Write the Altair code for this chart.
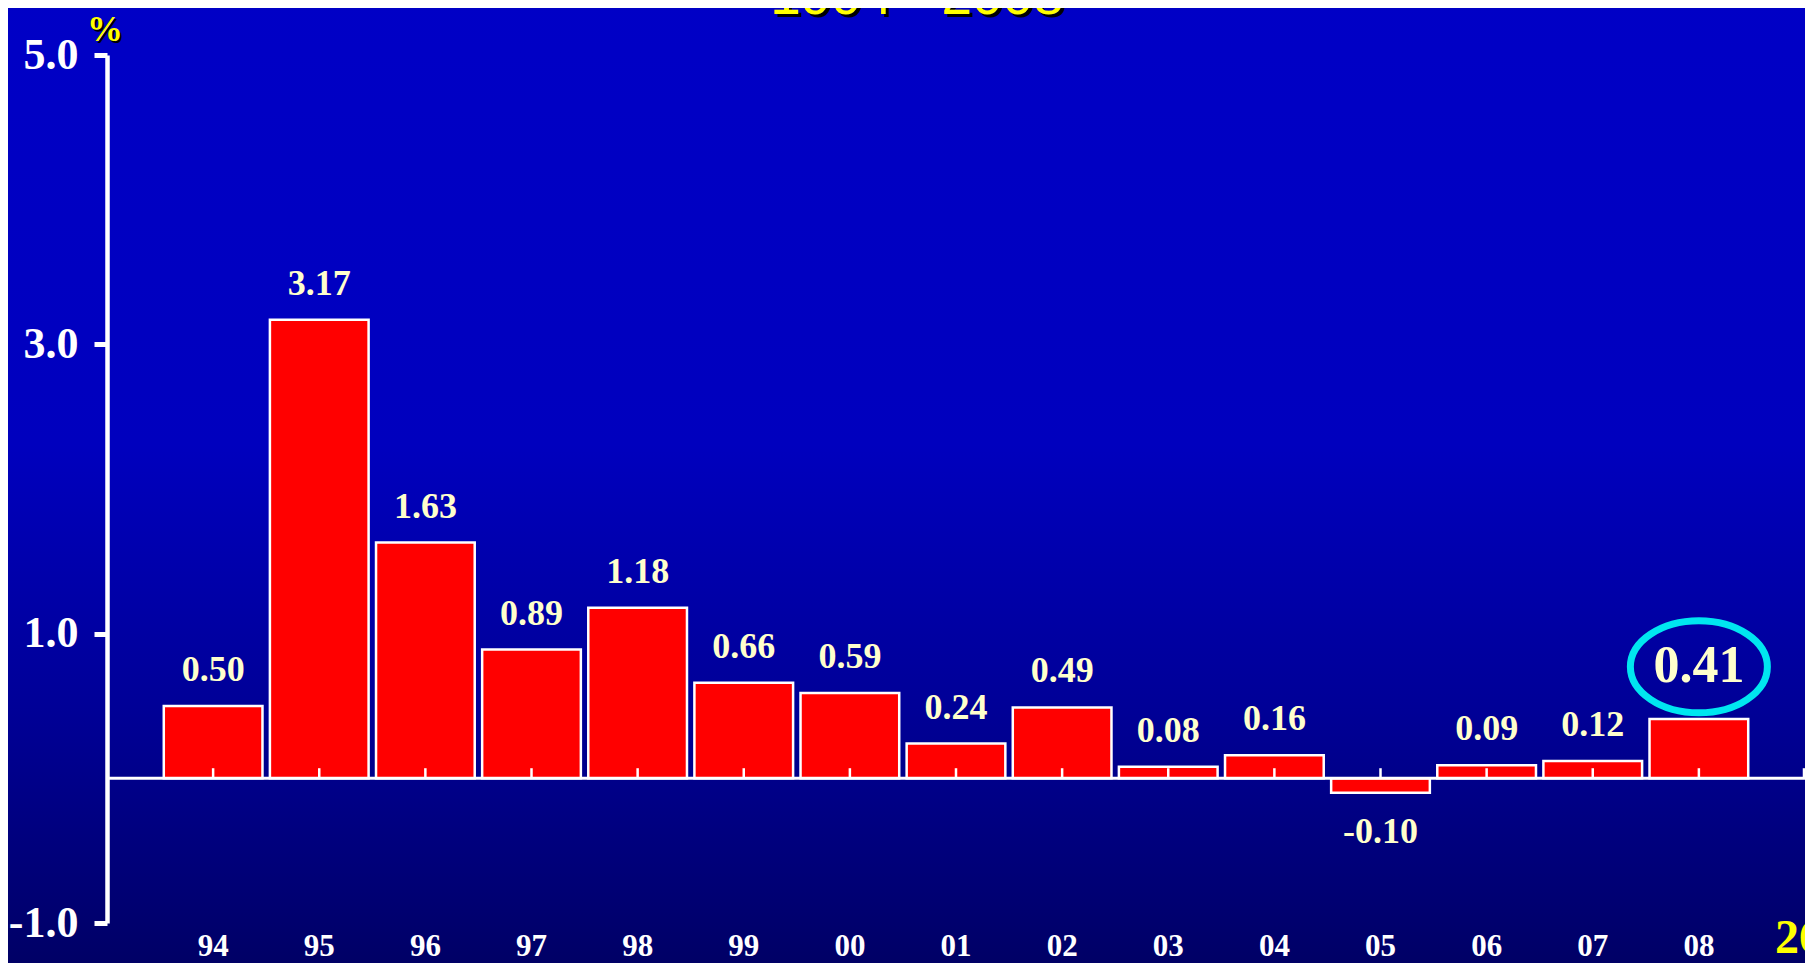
import altair as alt
import pandas as pd

# ---- data ----
years = ["94", "95", "96", "97", "98", "99", "00", "01", "02", "03", "04", "05", "06", "07", "08"]
values = [0.50, 3.17, 1.63, 0.89, 1.18, 0.66, 0.59, 0.24, 0.49, 0.08, 0.16, -0.10, 0.09, 0.12, 0.41]
labels = ["0.50", "3.17", "1.63", "0.89", "1.18", "0.66", "0.59", "0.24", "0.49", "0.08",
          "0.16", "-0.10", "0.09", "0.12", "0.41"]
highlight_year = "08"
y_ticks = [-1.0, 1.0, 3.0, 5.0]
title_text = ["1994 - 2008"]
unit_text = ["%"]
page_number = ["26"]

W, H = 1698, 868

df = pd.DataFrame({"year": years, "value": values, "label": labels})
df["hl"] = df["year"] == highlight_year

xscale = alt.Scale(domain=years, paddingInner=0.07, paddingOuter=0.535)
yscale = alt.Scale(domain=[-1, 5], nice=False, zero=False)

base = alt.Chart(df)

bg = alt.Chart(pd.DataFrame({"k": [0]})).mark_rect(
    color=alt.Gradient(
        gradient="linear", x1=0, x2=0, y1=0, y2=1,
        stops=[
            alt.GradientStop(offset=0, color="#0000C6"),
            alt.GradientStop(offset=0.45, color="#0000BE"),
            alt.GradientStop(offset=0.72, color="#000096"),
            alt.GradientStop(offset=1, color="#000060"),
        ],
    )
).encode(x=alt.value(-120), x2=alt.value(W + 30), y=alt.value(-60), y2=alt.value(H + 70))

bars = base.mark_bar(fill="#FF0000", stroke="white", strokeWidth=2.5).encode(
    x=alt.X("year:N", scale=xscale, sort=years,
            axis=alt.Axis(title=None, domain=False, ticks=False, labelAngle=0, zindex=2,
                          labelFont="Liberation Serif", labelFontWeight="bold",
                          labelFontSize=31, labelColor="white", labelPadding=8)),
    y=alt.Y("value:Q", scale=yscale,
            axis=alt.Axis(title=None, values=y_ticks, grid=False, zindex=2,
                          labelExpr="datum.value < 0 ? '-' + format(-datum.value, '.1f') : format(datum.value, '.1f')",
                          labelFont="Liberation Serif", labelFontWeight="bold",
                          labelFontSize=44, labelColor="white", labelPadding=16,
                          domainColor="white", domainWidth=4.5,
                          tickColor="white", tickWidth=5, tickSize=13)),
)

zero = alt.Chart(pd.DataFrame({"z": [0.0]})).mark_rule(color="white", strokeWidth=3).encode(
    y=alt.Y("z:Q", scale=yscale), x=alt.value(0), x2=alt.value(W)
)

ticks = base.mark_rule(color="white", strokeWidth=2.5).encode(
    x=alt.X("year:N", sort=years), y=alt.datum(0), y2=alt.datum(0.07)
)
end_tick = alt.Chart(pd.DataFrame({"z": [0.0]})).mark_rule(color="white", strokeWidth=2.5).encode(
    x=alt.value(W - 1), y=alt.datum(0), y2=alt.datum(0.07)
)

txt_pos = base.transform_filter("datum.value >= 0 && !datum.hl").mark_text(
    font="Liberation Serif", fontWeight="bold", fontSize=36, color="#FFFFCC",
    baseline="alphabetic", dy=-25
).encode(x=alt.X("year:N", sort=years), y="value:Q", text="label:N")

txt_neg = base.transform_filter("datum.value < 0").mark_text(
    font="Liberation Serif", fontWeight="bold", fontSize=36, color="#FFFFCC",
    baseline="alphabetic", dy=50
).encode(x=alt.X("year:N", sort=years), y="value:Q", text="label:N")

txt_hl = base.transform_filter("datum.hl").mark_text(
    font="Liberation Serif", fontWeight="bold", fontSize=52, color="#FFFFCC",
    baseline="alphabetic", dy=-37
).encode(x=alt.X("year:N", sort=years), y="value:Q", text="label:N")

ellipse = base.transform_filter("datum.hl").mark_point(
    shape="M -1 0 A 1 0.672 0 1 1 1 0 A 1 0.672 0 1 1 -1 0 Z",
    size=18769, filled=False, stroke="#00E6F0", strokeWidth=7, opacity=1
).encode(x=alt.X("year:N", sort=years), y=alt.datum(0.771))

title_df = pd.DataFrame({"t": title_text})
title_shadow = alt.Chart(title_df).mark_text(
    font="Liberation Sans", fontSize=55, color="black", align="center", baseline="alphabetic"
).encode(text="t:N", x=alt.value(813), y=alt.value(-38))
title = alt.Chart(title_df).mark_text(
    font="Liberation Sans", fontSize=55, color="#FFFF00", align="center", baseline="alphabetic"
).encode(text="t:N", x=alt.value(810), y=alt.value(-41))

unit_df = pd.DataFrame({"t": unit_text})
unit_shadow = alt.Chart(unit_df).mark_text(
    font="Liberation Serif", fontWeight="bold", fontSize=36, color="black", align="center",
    baseline="alphabetic"
).encode(text="t:N", x=alt.value(0), y=alt.value(-12))
unit = alt.Chart(unit_df).mark_text(
    font="Liberation Serif", fontWeight="bold", fontSize=36, color="#FFFF00", align="center",
    baseline="alphabetic"
).encode(text="t:N", x=alt.value(-2), y=alt.value(-14))

page = alt.Chart(pd.DataFrame({"t": page_number})).mark_text(
    font="Liberation Serif", fontWeight="bold", fontSize=48, color="#FFFF00", align="left",
    baseline="alphabetic"
).encode(text="t:N", x=alt.value(1668), y=alt.value(898))

chart = alt.layer(
    bg, bars, zero, ticks, end_tick, txt_pos, txt_neg, txt_hl, ellipse,
    title_shadow, title, unit_shadow, unit, page
).properties(
    width=W, height=H,
    padding={"left": 99, "top": 47, "right": 0, "bottom": 40},
    autosize=alt.AutoSizeParams(type="none"),
    background="#000070",
).configure_view(stroke=None)

chart.save("out.html", embed_options={"renderer": "svg", "actions": False})
